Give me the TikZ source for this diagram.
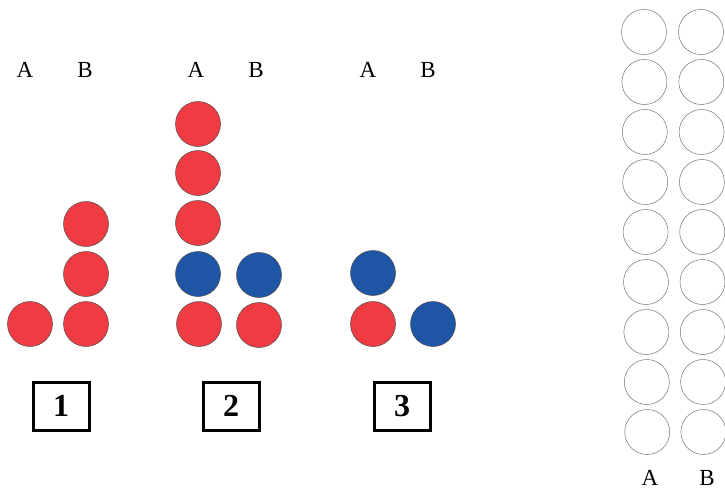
\documentclass[tikz,border=0pt]{standalone}
\usepackage{fontspec}
\setmainfont{Liberation Serif}
\definecolor{beadred}{RGB}{239,59,66}
\definecolor{beadblue}{RGB}{31,85,165}
\begin{document}
\begin{tikzpicture}[x=1pt, y=-1pt,
    bead/.style={circle, draw=black!70, line width=0.5pt, minimum size=45pt, inner sep=0pt},
    redbead/.style={bead, fill=beadred},
    bluebead/.style={bead, fill=beadblue},
    emptybead/.style={bead, draw=black!55, fill=white},
    collabel/.style={inner sep=0pt, font=\fontsize{23}{23}\selectfont},
    numbox/.style={draw, line width=3pt, minimum width=56pt, minimum height=48pt,
        inner sep=0pt, font=\fontsize{32}{32}\selectfont\bfseries}]
    \useasboundingbox (0,0) rectangle (725,490);

    % Column labels
    \node[collabel] (a1) at (25,70) {A};
    \node[collabel] (b1) at (85,70) {B};
    \node[collabel] (a2) at (196,70) {A};
    \node[collabel] (b2) at (256,70) {B};
    \node[collabel] (a3) at (368,70) {A};
    \node[collabel] (b3) at (428,70) {B};

    % Case 1
    \node[redbead] (p1a1) at (30,324) {};
    \node[redbead] (p1b1) at (86,324) {};
    \node[redbead] (p1b2) at (86,274) {};
    \node[redbead] (p1b3) at (86,224) {};
    \node[numbox] (box1) at (61,406) {1};

    % Case 2
    \node[redbead] (p2a1) at (199,324) {};
    \node[bluebead] (p2a2) at (198,274) {};
    \node[redbead] (p2a3) at (198,223) {};
    \node[redbead] (p2a4) at (198,173) {};
    \node[redbead] (p2a5) at (198,124) {};
    \node[redbead] (p2b1) at (259,325) {};
    \node[bluebead] (p2b2) at (259,275) {};
    \node[numbox] (box2) at (231,406) {2};

    % Case 3
    \node[redbead] (p3a1) at (373,324) {};
    \node[bluebead] (p3a2) at (373,273) {};
    \node[bluebead] (p3b1) at (433,324) {};
    \node[numbox] (box3) at (402,406) {3};

    % Empty columns
    \foreach \i in {0,...,8}{
        \node[emptybead] (ea\i) at (644+0.4*\i,32+50*\i) {};
        \node[emptybead] (eb\i) at (701+0.3*\i,32+50*\i) {};
    }
    \node[collabel] (ea) at (650,478) {A};
    \node[collabel] (eb) at (707,478) {B};
\end{tikzpicture}
\end{document}
